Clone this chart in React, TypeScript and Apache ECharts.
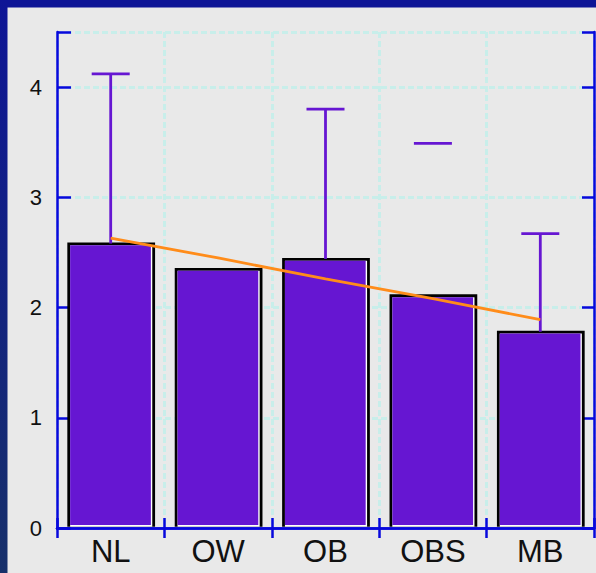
import React, { useEffect, useRef } from "react";
import * as echarts from "echarts";

const categories = ["NL", "OW", "OB", "OBS", "MB"];
const means = [2.59, 2.36, 2.45, 2.12, 1.79];
const upperErr: (number | null)[] = [4.12, null, 3.8, 3.49, 2.67];
const showStem = [1, 0, 1, 0, 1];
const trend = [2.63, 2.45, 2.26, 2.08, 1.89];
const yMin = 0;
const yMax = 4.5;
const yInterval = 1;

const FRAME = "#0808dc";
const GRIDC = "#c8eeea";
const BARC = "#6616d2";
const FONT = "Liberation Sans, Arial, sans-serif";

export default function App() {
  const ref = useRef<HTMLDivElement>(null);
  useEffect(() => {
    if (!ref.current) return;
    const chart = echarts.init(ref.current, null, { renderer: "svg" });
    const barData = categories.map((_, i) => [i, means[i]]);
    const errData = categories
      .map((_, i) => [i, means[i], upperErr[i], showStem[i]])
      .filter((d) => d[2] !== null);
    const yLabelFmt = (v: number) => (Number.isInteger(v) ? String(v) : "");
    chart.setOption({
      animation: false,
      backgroundColor: "#e9e9e9",
      graphic: [
        {
          type: "rect",
          shape: { x: 0, y: 0, width: 596, height: 7.5 },
          style: { fill: "#0e1596" },
          z: 100,
        },
        {
          type: "rect",
          shape: { x: 0, y: 0, width: 7.5, height: 573 },
          style: {
            fill: new echarts.graphic.LinearGradient(0, 0, 0, 1, [
              { offset: 0, color: "#0e1596" },
              { offset: 1, color: "#17306a" },
            ]),
          },
          z: 100,
        },
      ],
      grid: { left: 57, top: 32, right: 2, bottom: 45, containLabel: false },
      xAxis: [
        {
          type: "category",
          data: categories,
          position: "bottom",
          boundaryGap: true,
          axisLine: { show: true, lineStyle: { color: FRAME, width: 2.5 } },
          axisTick: { show: true, inside: true, length: 10, lineStyle: { color: FRAME, width: 2.5 } },
          axisLabel: { show: true, color: "#111", fontSize: 31, fontFamily: FONT, margin: 8 },
          splitLine: { show: true, lineStyle: { color: GRIDC, width: 3, type: [6, 3] } },
        },
        {
          type: "category",
          data: categories,
          position: "top",
          boundaryGap: true,
          axisLine: { show: true, lineStyle: { color: FRAME, width: 2.5 } },
          axisTick: { show: true, inside: true, length: 10, lineStyle: { color: FRAME, width: 2.5 } },
          axisLabel: { show: false },
          splitLine: { show: false },
        },
      ],
      yAxis: [
        {
          type: "value",
          min: yMin,
          max: yMax,
          interval: yInterval,
          position: "left",
          axisLine: { show: true, lineStyle: { color: FRAME, width: 2.5 } },
          axisTick: { show: true, inside: true, length: 14, lineStyle: { color: FRAME, width: 2.5 } },
          axisLabel: { show: true, color: "#111", fontSize: 22, fontFamily: FONT, margin: 15, formatter: yLabelFmt },
          splitLine: { show: true, lineStyle: { color: GRIDC, width: 3, type: [6, 3] } },
        },
        {
          type: "value",
          min: yMin,
          max: yMax,
          interval: yInterval,
          position: "right",
          axisLine: { show: true, lineStyle: { color: FRAME, width: 2.5 } },
          axisTick: { show: true, inside: true, length: 12, lineStyle: { color: FRAME, width: 2.5 } },
          axisLabel: { show: false },
          splitLine: { show: false },
        },
      ],
      series: [
        {
          type: "custom",
          xAxisIndex: 0,
          yAxisIndex: 0,
          z: 2,
          data: barData,
          encode: { x: 0, y: 1 },
          renderItem: (params: any, api: any) => {
            const idx = api.value(0);
            const v = api.value(1);
            const top = api.coord([idx, v]);
            const base = api.coord([idx, 0]);
            const band = api.size([1, 0])[0];
            const w = band * 0.817;
            const x0 = top[0] - w / 2 + 0.5;
            const y0 = top[1];
            const h = base[1] - top[1] - 1.25;
            const b = 2.8;
            return {
              type: "group",
              children: [
                { type: "rect", shape: { x: x0, y: y0, width: w, height: h }, style: { fill: "#000" } },
                { type: "rect", shape: { x: x0 + b, y: y0 + b, width: w - 2 * b, height: h - b }, style: { fill: "#ffffff" } },
                { type: "rect", shape: { x: x0 + b, y: y0 + b, width: w - 2 * b - 1.4, height: h - b - 1.8 }, style: { fill: BARC } },
              ],
            };
          },
        },
        {
          type: "custom",
          xAxisIndex: 0,
          yAxisIndex: 0,
          z: 3,
          data: errData,
          encode: { x: 0, y: 2 },
          renderItem: (params: any, api: any) => {
            const idx = api.value(0);
            const m = api.value(1);
            const hi = api.value(2);
            const stem = api.value(3);
            const pTop = api.coord([idx, hi]);
            const pMean = api.coord([idx, m]);
            const cap = 38;
            const children: any[] = [
              {
                type: "line",
                shape: { x1: pTop[0] - cap / 2, y1: pTop[1], x2: pTop[0] + cap / 2, y2: pTop[1] },
                style: { stroke: BARC, lineWidth: 2.8 },
              },
            ];
            if (stem) {
              children.push({
                type: "line",
                shape: { x1: pTop[0], y1: pTop[1], x2: pTop[0], y2: pMean[1] + 1 },
                style: { stroke: BARC, lineWidth: 2.8 },
              });
            }
            return { type: "group", children };
          },
        },
        {
          type: "line",
          xAxisIndex: 0,
          yAxisIndex: 0,
          z: 4,
          data: trend,
          symbol: "none",
          lineStyle: { color: "#ff8c1a", width: 2.8 },
          itemStyle: { color: "#ff8c1a" },
        },
      ],
    });
    return () => chart.dispose();
  }, []);
  return (
    <div
      ref={ref}
      style={{ position: "fixed", left: 0, top: 0, width: 596, height: 573 }}
    />
  );
}
